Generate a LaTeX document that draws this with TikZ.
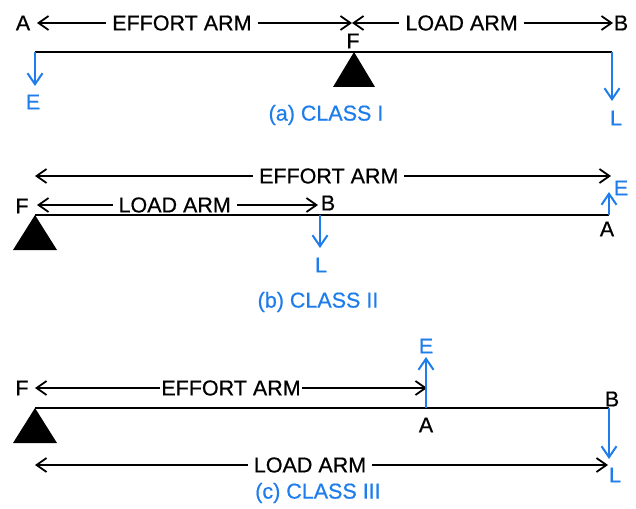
\documentclass[tikz,border=0pt]{standalone}
\usepackage{fontspec}
\setmainfont[BoldFont={Liberation Sans},BoldFeatures={FakeBold=0.6}]{Liberation Sans}
\usetikzlibrary{arrows.meta,positioning}
\definecolor{forceblue}{RGB}{30,125,235}

\begin{document}
\begin{tikzpicture}[x=1pt,y=-1pt,
   lbl/.style={inner sep=0pt,font=\fontsize{21.5}{25}\selectfont\bfseries},
   force lbl/.style={lbl,text=forceblue},
   beam/.style={line width=2.4pt},
   arm/.style={line width=1.8pt,{Straight Barb[length=10pt,width=14pt,line width=1.8pt]}-{Straight Barb[length=10pt,width=14pt,line width=1.8pt]}},
   force/.style={forceblue,line width=2pt,-{Straight Barb[length=11pt,width=15pt,line width=2pt]}},
   armtext/.style={lbl,fill=white,inner xsep=6pt,inner ysep=1pt}
  ]
   \useasboundingbox (0,0) rectangle (636,508);

   \node[lbl] (a-A) at (23,23) {A};
   \node[lbl] (a-B) at (621,23) {B};
   \node[lbl] (a-F) at (353,41) {F};
   \node[force lbl] (a-E) at (33,102) {E};
   \node[force lbl] (a-L) at (616,118) {L};
   \node[force lbl] (a-title) at (326,115) {(a) CLASS I};
   \coordinate (a-left) at (35,52);
   \coordinate (a-fulcrum) at (354,52);
   \coordinate (a-right) at (612,52);
   \coordinate (a-Etip) at (35,86);
   \coordinate (a-Ltip) at (612,101);
   \coordinate (a-effstart) at (37,23);
   \coordinate (a-mid) at (352,23);
   \coordinate (a-loadend) at (613,23);
   \path%
    (a-effstart) edge [arm] node[armtext,pos=.46] {EFFORT ARM} (a-mid)
    (a-mid) edge [arm] node[armtext,pos=.42] {LOAD ARM} (a-loadend)
    (a-left) edge [beam] (a-right)
    (a-left) edge [force] (a-Etip)
    (a-right) edge [force] (a-Ltip);
   \fill (a-fulcrum) -- ++(-21,35) -- ++(42,0) -- cycle;

   \node[lbl] (b-F) at (22,206) {F};
   \node[lbl] (b-B) at (328,203) {B};
   \node[lbl] (b-A) at (607,229) {A};
   \node[force lbl] (b-L) at (321,265) {L};
   \node[force lbl] (b-E) at (621,188) {E};
   \node[force lbl] (b-title) at (318,302) {(b) CLASS II};
   \coordinate (b-fulcrum) at (35,215);
   \coordinate (b-load) at (320,215);
   \coordinate (b-right) at (609,215);
   \coordinate (b-Ltip) at (320,248);
   \coordinate (b-Etip) at (609,192);
   \coordinate (b-effstart) at (35,176);
   \coordinate (b-effend) at (611,176);
   \coordinate (b-loadstart) at (37,205);
   \coordinate (b-loadend) at (318,205);
   \path%
    (b-effstart) edge [arm] node[armtext,pos=.51] {EFFORT ARM} (b-effend)
    (b-loadstart) edge [arm] node[armtext,pos=.49] {LOAD ARM} (b-loadend)
    (b-fulcrum) edge [beam] (b-right)
    (b-load) edge [force] (b-Ltip)
    (b-right) edge [force] (b-Etip);
   \fill (b-fulcrum) -- ++(-22,35) -- ++(44,0) -- cycle;

   \node[lbl] (c-F) at (22,388) {F};
   \node[lbl] (c-A) at (426,425) {A};
   \node[lbl] (c-B) at (612,399) {B};
   \node[force lbl] (c-E) at (426,346) {E};
   \node[force lbl] (c-L) at (615,475) {L};
   \node[force lbl] (c-title) at (318,493) {(c) CLASS III};
   \coordinate (c-fulcrum) at (35,408);
   \coordinate (c-effort) at (426,408);
   \coordinate (c-right) at (609,408);
   \coordinate (c-Etip) at (426,357);
   \coordinate (c-Ltip) at (609,459);
   \coordinate (c-effstart) at (35,388);
   \coordinate (c-effend) at (427,388);
   \coordinate (c-loadstart) at (35,465);
   \coordinate (c-loadend) at (608,465);
   \path%
    (c-effstart) edge [arm] node[armtext,inner xsep=1pt,pos=.5] {EFFORT ARM} (c-effend)
    (c-loadstart) edge [arm] node[armtext,pos=.48] {LOAD ARM} (c-loadend)
    (c-fulcrum) edge [beam] (c-right)
    (c-effort) edge [force] (c-Etip)
    (c-right) edge [force] (c-Ltip);
   \fill (c-fulcrum) -- ++(-22,35) -- ++(44,0) -- cycle;
\end{tikzpicture}
\end{document}
